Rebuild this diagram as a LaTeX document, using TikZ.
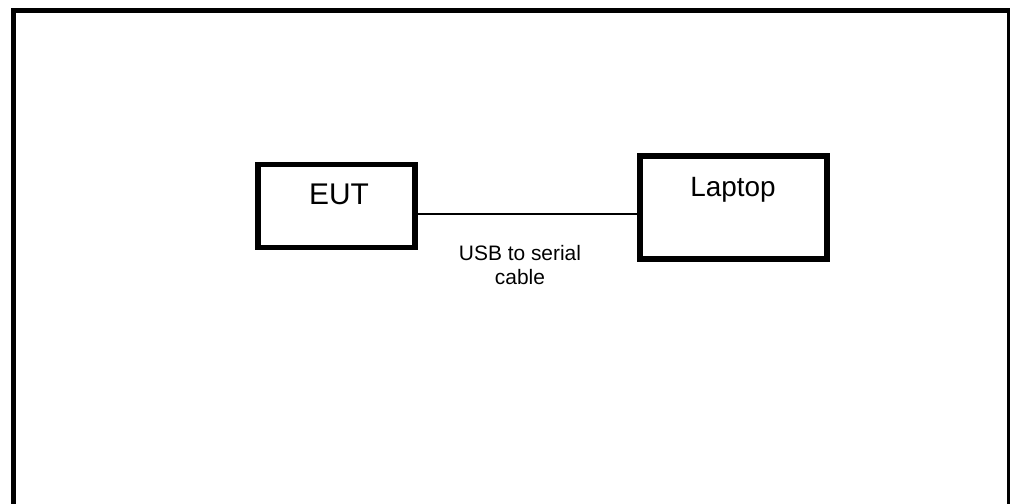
\documentclass[tikz,border=0pt]{standalone}
\usepackage{fontspec}
\setmainfont{Liberation Sans}
\begin{document}
\begin{tikzpicture}[x=1bp,y=-1bp,
  box/.style={draw=black,line width=5.5bp},
  lbl/.style={anchor=base,inner sep=0pt}]
\useasboundingbox (0,0) rectangle (1010,504);
\path[fill=white] (0,0) rectangle (1010,504);
\draw[line width=5bp] (13.5,515) -- (13.5,10.5) -- (1009.5,10.5) -- (1009.5,515);
\draw[box] (258,164.5) rectangle (415,247.5);
\draw[box] (640,156) rectangle (827,259);
\coordinate (eutE) at (415,214);
\coordinate (lapW) at (640,214);
\node[lbl,font=\fontsize{30}{36}\selectfont] (eut) at (339,205) {EUT};
\node[lbl,font=\fontsize{28}{34}\selectfont] (lap) at (733,197) {Laptop};
\draw[line width=1.5bp] (eutE) -- (lapW);
\node[lbl,font=\fontsize{21}{24}\selectfont] (l1) at (520,261) {USB to serial};
\node[lbl,font=\fontsize{21}{24}\selectfont] (l2) at (520,285) {cable};
\end{tikzpicture}
\end{document}
